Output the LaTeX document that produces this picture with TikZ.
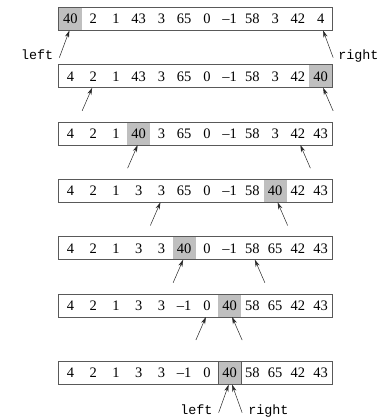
\documentclass[tikz,border=0pt]{standalone}
\usepackage{fontspec}
\setmainfont{Liberation Serif}
\newfontfamily\lblfont{Liberation Mono}
\usetikzlibrary{arrows.meta,calc}
\tikzset{
  cell/.style={minimum width=22.75pt,minimum height=22.7pt,inner sep=0pt,
    text height=9.8pt,text depth=0pt,font=\fontsize{14.5}{16}\selectfont},
  plain/.style={cell},
  shade/.style={cell,fill=black!25},
  shadeb/.style={cell,fill=black!25,draw=black!65,line width=0.7pt},
  border/.style={draw=black!65,line width=0.7pt},
  ptr/.style={draw=black!85,line width=0.5pt,-{Stealth[length=7pt,width=4.2pt]}},
  lbl/.style={inner sep=0pt,font=\lblfont\fontsize{13.4}{16}\selectfont},
}
\begin{document}
\begin{tikzpicture}[x=1pt,y=-1pt]
\useasboundingbox (0,0) rectangle (379,417);
\foreach \r/\y/\s/\st/\vals in {
  1/19/0/shade/{40,2,1,43,3,65,0,\textendash1,58,3,42,4},
  2/76.3/11/shade/{4,2,1,43,3,65,0,\textendash1,58,3,42,40},
  3/133.6/3/shade/{4,2,1,40,3,65,0,\textendash1,58,3,42,43},
  4/190.9/9/shade/{4,2,1,3,3,65,0,\textendash1,58,40,42,43},
  5/248.2/5/shade/{4,2,1,3,3,40,0,\textendash1,58,65,42,43},
  6/305.5/7/shade/{4,2,1,3,3,\textendash1,0,40,58,65,42,43},
  7/373/7/shadeb/{4,2,1,3,3,\textendash1,0,40,58,65,42,43}}{
  \foreach \v [count=\i from 0] in \vals {
    \ifnum\i=\s \def\cs{\st}\else\def\cs{plain}\fi
    \node[\cs] (r\r-\i) at (70.375+22.75*\i,\y) {\v};
  }
  \draw[border] (r\r-0.north west) rectangle (r\r-11.south east);
}
% pointer arrows
\foreach \r/\l/\rr/\d in {1/0/11/27, 2/1/11/23, 3/3/10/23, 4/4/9/23, 5/5/8/23, 6/6/7/23, 7/7/7/28}{
  \coordinate (hL\r) at ([xshift=-1pt]r\r-\l.south);
  \coordinate (hR\r) at ([xshift=2.5pt]r\r-\rr.south);
  \coordinate (tL\r) at ($(hL\r)+(-10,\d)$);
  \coordinate (tR\r) at ($(hR\r)+(10,\d)$);
  \draw[ptr] (tL\r) -- (hL\r);
  \draw[ptr] (tR\r) -- (hR\r);
}
\node[lbl,anchor=base east] (lab1L) at ($(tL1)+(-6,2)$) {left};
\node[lbl,anchor=base west] (lab1R) at ($(tR1)+(5,2)$) {right};
\node[lbl,anchor=base east] (lab7L) at ($(tL7)+(-6,2)$) {left};
\node[lbl,anchor=base west] (lab7R) at ($(tR7)+(6,2)$) {right};
\end{tikzpicture}
\end{document}
